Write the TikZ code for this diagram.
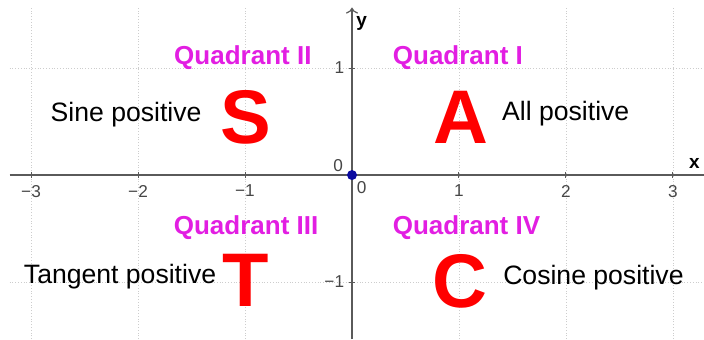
\documentclass[tikz,border=0pt]{standalone}
\usepackage{fontspec}
\setmainfont{Liberation Sans}
\usetikzlibrary{arrows,arrows.meta,positioning,calc}
\definecolor{quadmag}{RGB}{226,30,226}
\definecolor{gridgray}{RGB}{205,205,205}
\definecolor{axisgray}{RGB}{90,90,90}
\definecolor{ticktext}{RGB}{70,70,70}
\definecolor{origblue}{RGB}{10,10,160}

\begin{document}
\begin{tikzpicture}[x=1.88cm, y=1.88cm,
        quadlabel/.style={text=quadmag, font=\fontsize{13}{15}\selectfont\bfseries, inner sep=0, anchor=base},
        bigletter/.style={text=red, font=\fontsize{38}{42}\selectfont\bfseries, inner sep=0},
        signtext/.style={font=\fontsize{13.3}{16}\selectfont, inner sep=0, anchor=base west},
        ticklabel/.style={text=ticktext, font=\fontsize{8.6}{10}\selectfont, inner sep=0},
        axislabel/.style={font=\fontsize{9.5}{11}\selectfont\bfseries, inner sep=0}]
            \useasboundingbox (-3.29, -1.533) rectangle (3.29, 1.636);

            % grid
            \foreach \gx in {-3,-2,-1,1,2,3}
                \draw[gridgray, densely dotted] (\gx, -1.533) -- (\gx, 1.56);
            \foreach \gy in {-1,1}
                \draw[gridgray, densely dotted] (-3.2, \gy) -- (3.29, \gy);

            % axes
            \coordinate (x_min) at (-3.2, 0);
            \coordinate (x_max) at (3.29, 0);
            \coordinate (y_min) at (0, -1.533);
            \coordinate (y_max) at (0, 1.565);
            \draw[axisgray, line width=0.6pt] (x_min) -- (x_max);
            \draw[axisgray, line width=0.6pt, -{To[length=3pt, width=6pt]}] (y_min) -- (y_max);

            \foreach \tx/\tl in {-3/−3,-2/−2,-1/−1,1/1,2/2,3/3} {
                \draw[axisgray, line width=0.5pt] (\tx, 0.03) -- (\tx, -0.03);
                \node[ticklabel] (xt\tx) at (\tx, -0.15) {\tl};
            }
            \foreach \ty/\tl in {-1/−1,1/1} {
                \draw[axisgray, line width=0.5pt] (-0.03, \ty) -- (0.03, \ty);
                \node[ticklabel, anchor=east] (yt\ty) at (-0.07, \ty) {\tl};
            }
            \node[ticklabel] (y_zero) at (-0.13, 0.09) {0};
            \node[ticklabel] (x_zero) at (0.09, -0.12) {0};

            \node[axislabel] (x_lab) at (3.2, 0.11) {x};
            \node[axislabel] (y_lab) at (0.09, 1.42) {y};

            \node[circle, fill=origblue, inner sep=0, minimum size=5pt] (O) at (0, 0) {};

            % quadrant names
            \node[quadlabel] (Q2) at (-1.02, 1.03) {Quadrant II};
            \node[quadlabel] (Q1) at (0.99, 1.03) {Quadrant I};
            \node[quadlabel] (Q3) at (-0.99, -0.56) {Quadrant III};
            \node[quadlabel] (Q4) at (1.07, -0.56) {Quadrant IV};

            % ASTC letters
            \node[bigletter] (S) at (-0.99, 0.54) {S};
            \node[bigletter] (A) at (1.02, 0.54) {A};
            \node[bigletter] (T) at (-0.99, -0.98) {T};
            \node[bigletter] (C) at (1.01, -0.99) {C};

            \node[signtext] (S_txt) at (-2.82, 0.505) {Sine positive};
            \node[signtext] (A_txt) at (1.40, 0.51) {All positive};
            \node[signtext] (T_txt) at (-3.07, -1.01) {Tangent positive};
            \node[signtext] (C_txt) at (1.41, -1.02) {Cosine positive};
      \end{tikzpicture}
\end{document}
